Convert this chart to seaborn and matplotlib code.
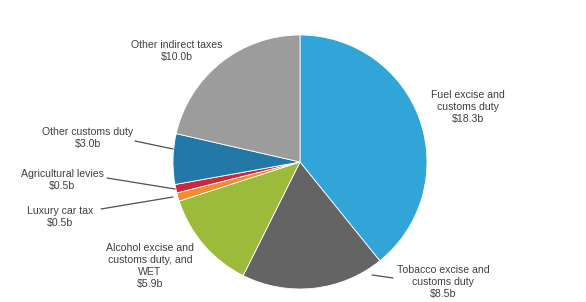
import matplotlib
matplotlib.use("Agg")
import matplotlib.pyplot as plt
import seaborn as sns

categories = ["Fuel excise and\ncustoms duty", "Tobacco excise and\ncustoms duty",
              "Alcohol excise and\ncustoms duty, and\nWET", "Luxury car tax",
              "Agricultural levies", "Other customs duty", "Other indirect taxes"]
values = [18.3, 8.5, 5.9, 0.5, 0.5, 3.0, 10.0]
colors = ["#31a5d7", "#646464", "#9cbb3b", "#f68b2b", "#cf263f", "#2279a7", "#9c9c9c"]

sns.set_theme(style="white")
plt.rcParams['font.family'] = ['Liberation Sans', 'DejaVu Sans']

W, H = 586, 302
fig = plt.figure(figsize=(W / 100, H / 100), dpi=100)
ax = fig.add_axes([0, 0, 1, 1])

cx, cy, r = 300, H - 162, 127
ax.pie(values, colors=colors, startangle=90, counterclock=False,
       center=(cx, cy), radius=r, frame=True,
       wedgeprops=dict(edgecolor="white", linewidth=0.6))
ax.set_xlim(0, W)
ax.set_ylim(0, H)
ax.set_aspect("equal")
ax.axis("off")

labels = [f"{c}\n${v:.1f}b" for c, v in zip(categories, values)]
# label anchor positions in pixel coords (x, y from top)
pos = [(468, 107), (443, 282), (150, 266), (60, 217), (62, 180), (88, 138), (177, 51)]
txtc = "#404040"
for lab, (x, y) in zip(labels, pos):
    ax.text(x, H - y, lab, ha="center", va="center", fontsize=7.6, color=txtc,
            linespacing=1.25)

# leader lines
leaders = [((372, 275), (393, 278)),
           ((101, 209), (173, 197)),
           ((107, 178), (175, 189)),
           ((135, 141), (173, 149))]
for (x0, y0), (x1, y1) in leaders:
    ax.plot([x0, x1], [H - y0, H - y1], color="#505050", lw=0.9)

fig.savefig("out.png", dpi=100, facecolor="white")
